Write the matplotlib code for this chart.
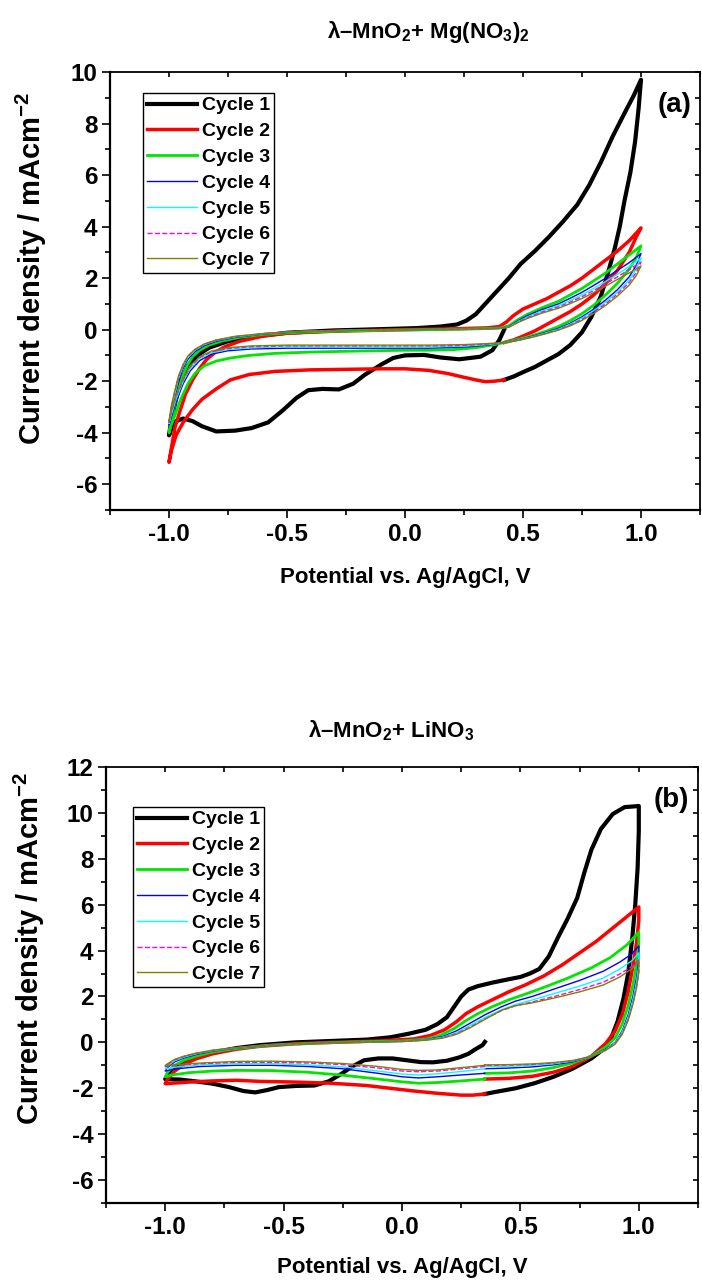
import matplotlib
matplotlib.use('Agg')
import matplotlib.pyplot as plt
from matplotlib.ticker import MultipleLocator

plt.rcParams['font.family'] = ['Liberation Sans', 'DejaVu Sans']
plt.rcParams['font.weight'] = 'bold'
plt.rcParams['axes.unicode_minus'] = False
plt.rcParams['mathtext.fontset'] = 'custom'
plt.rcParams['mathtext.rm'] = 'Liberation Sans:bold'
plt.rcParams['mathtext.it'] = 'Liberation Sans:bold'
plt.rcParams['mathtext.bf'] = 'Liberation Sans:bold'

# ---------------- panel (a): lambda-MnO2 + Mg(NO3)2 ----------------
a1_E = [0.42, 0.40, 0.37, 0.32, 0.23, 0.15, 0.08, 0.0, -0.05, -0.1, -0.17, -0.22, -0.28, -0.35, -0.41, -0.46,
        -0.52, -0.58, -0.65, -0.72, -0.8, -0.86, -0.9, -0.94, -0.97, -0.99, -1.0,
        -0.99, -0.97, -0.95, -0.92, -0.88, -0.83, -0.75, -0.65, -0.5, -0.3, -0.1, 0.05, 0.15, 0.22, 0.26, 0.3,
        0.35, 0.4, 0.44, 0.49, 0.55, 0.61, 0.67, 0.73, 0.78, 0.83, 0.88, 0.93, 0.97, 1.0,
        0.99, 0.975, 0.955, 0.93, 0.91, 0.89, 0.86, 0.83, 0.79, 0.75, 0.7, 0.65, 0.6, 0.55, 0.5, 0.46, 0.42]
a1_j = [0.0, -0.4, -0.8, -1.05, -1.15, -1.08, -0.98, -1.0, -1.1, -1.35, -1.75, -2.1, -2.32, -2.3, -2.35, -2.65,
        -3.15, -3.6, -3.82, -3.92, -3.95, -3.75, -3.55, -3.45, -3.55, -3.85, -4.1,
        -3.5, -2.7, -2.0, -1.4, -1.0, -0.7, -0.45, -0.28, -0.12, -0.03, 0.02, 0.06, 0.12, 0.2, 0.35, 0.6,
        1.1, 1.6, 2.0, 2.55, 3.05, 3.6, 4.2, 4.85, 5.6, 6.5, 7.5, 8.4, 9.1, 9.7,
        8.6, 7.3, 6.1, 5.0, 4.0, 3.2, 2.2, 1.3, 0.5, -0.1, -0.6, -0.95, -1.2, -1.45, -1.65, -1.82, -1.95]

a2_E = [0.42, 0.38, 0.34, 0.3, 0.25, 0.18, 0.1, 0.0, -0.1, -0.25, -0.4, -0.55, -0.66, -0.74, -0.8, -0.86,
        -0.9, -0.94, -0.97, -0.99, -1.0,
        -0.99, -0.975, -0.955, -0.93, -0.9, -0.87, -0.84, -0.8, -0.76, -0.7, -0.6, -0.5, -0.3, 0.0, 0.2, 0.35,
        0.4, 0.43, 0.46, 0.5, 0.55, 0.6, 0.65, 0.7, 0.75, 0.8, 0.85, 0.9, 0.95, 1.0,
        0.98, 0.95, 0.9, 0.85, 0.8, 0.75, 0.7, 0.65, 0.6, 0.55, 0.5, 0.46, 0.42]
a2_j = [-1.95, -2.0, -2.02, -1.95, -1.85, -1.7, -1.58, -1.52, -1.52, -1.54, -1.56, -1.62, -1.74, -1.95, -2.3, -2.7,
        -3.1, -3.6, -4.1, -4.7, -5.15,
        -4.6, -3.8, -3.2, -2.5, -1.95, -1.5, -1.15, -0.85, -0.65, -0.45, -0.25, -0.14, -0.06, 0.0, 0.03, 0.07,
        0.12, 0.3, 0.55, 0.8, 1.0, 1.2, 1.45, 1.7, 2.0, 2.35, 2.7, 3.05, 3.45, 3.95,
        3.6, 3.0, 2.3, 1.8, 1.35, 1.0, 0.7, 0.45, 0.2, -0.05, -0.25, -0.4, -0.5]

a3_E = [0.42, 0.38, 0.3, 0.2, 0.1, 0.0, -0.2, -0.4, -0.55, -0.66, -0.74, -0.8, -0.85, -0.89, -0.92, -0.95,
        -0.97, -0.99, -1.0,
        -0.99, -0.975, -0.96, -0.94, -0.92, -0.9, -0.87, -0.83, -0.78, -0.7, -0.6, -0.45, -0.2, 0.1, 0.3, 0.4,
        0.44, 0.48, 0.52, 0.58, 0.65, 0.7, 0.75, 0.8, 0.85, 0.9, 0.95, 1.0,
        0.98, 0.95, 0.9, 0.85, 0.8, 0.75, 0.7, 0.65, 0.6, 0.55, 0.5, 0.46, 0.42]
a3_j = [-0.5, -0.58, -0.7, -0.78, -0.8, -0.8, -0.83, -0.87, -0.92, -1.0, -1.1, -1.22, -1.4, -1.7, -2.1, -2.7,
        -3.2, -3.7, -4.0,
        -3.5, -2.9, -2.3, -1.75, -1.35, -1.05, -0.8, -0.6, -0.45, -0.3, -0.18, -0.1, -0.04, 0.0, 0.03, 0.06,
        0.15, 0.4, 0.6, 0.85, 1.1, 1.35, 1.6, 1.9, 2.2, 2.55, 2.9, 3.25,
        2.8, 2.35, 1.8, 1.35, 0.95, 0.62, 0.35, 0.12, -0.05, -0.2, -0.33, -0.42, -0.5]

a4_E = [0.42, 0.35, 0.25, 0.1, -0.1, -0.3, -0.5, -0.65, -0.75, -0.82, -0.87, -0.91, -0.94, -0.97, -0.99, -1.0,
        -0.99, -0.975, -0.96, -0.94, -0.92, -0.89, -0.85, -0.8, -0.72, -0.6, -0.45, -0.2, 0.1, 0.3, 0.4,
        0.44, 0.48, 0.52, 0.58, 0.65, 0.7, 0.75, 0.8, 0.85, 0.9, 0.95, 1.0,
        0.98, 0.95, 0.9, 0.85, 0.8, 0.75, 0.7, 0.65, 0.6, 0.55, 0.5, 0.46, 0.42]
a4_j = [-0.5, -0.6, -0.68, -0.72, -0.72, -0.72, -0.72, -0.75, -0.82, -0.95, -1.2, -1.6, -2.1, -2.8, -3.4, -3.7,
        -3.2, -2.6, -2.0, -1.5, -1.15, -0.85, -0.62, -0.45, -0.3, -0.17, -0.08, -0.02, 0.01, 0.03, 0.05,
        0.12, 0.35, 0.55, 0.78, 1.0, 1.22, 1.45, 1.72, 2.0, 2.3, 2.6, 2.95,
        2.5, 2.05, 1.55, 1.15, 0.8, 0.5, 0.25, 0.05, -0.1, -0.23, -0.35, -0.43, -0.5]

a5_E = a4_E
a5_j = [-0.5, -0.58, -0.64, -0.67, -0.67, -0.67, -0.67, -0.7, -0.77, -0.9, -1.12, -1.5, -2.0, -2.7, -3.3, -3.65,
        -3.1, -2.5, -1.9, -1.42, -1.08, -0.8, -0.58, -0.42, -0.28, -0.16, -0.07, -0.02, 0.01, 0.03, 0.05,
        0.11, 0.32, 0.5, 0.72, 0.93, 1.13, 1.35, 1.6, 1.87, 2.15, 2.45, 2.78,
        2.35, 1.93, 1.45, 1.07, 0.74, 0.45, 0.21, 0.02, -0.12, -0.25, -0.36, -0.44, -0.5]

a6_E = a4_E
a6_j = [-0.5, -0.56, -0.61, -0.63, -0.63, -0.63, -0.63, -0.66, -0.73, -0.86, -1.08, -1.45, -1.95, -2.6, -3.2, -3.6,
        -3.0, -2.4, -1.85, -1.38, -1.05, -0.78, -0.57, -0.41, -0.27, -0.15, -0.07, -0.02, 0.01, 0.03, 0.05,
        0.1, 0.3, 0.47, 0.68, 0.88, 1.07, 1.28, 1.52, 1.78, 2.05, 2.33, 2.62,
        2.22, 1.83, 1.38, 1.0, 0.68, 0.4, 0.18, 0.0, -0.14, -0.26, -0.37, -0.45, -0.5]

a7_E = a4_E
a7_j = [-0.5, -0.54, -0.58, -0.6, -0.6, -0.6, -0.6, -0.63, -0.7, -0.83, -1.05, -1.4, -1.9, -2.55, -3.15, -3.55,
        -2.95, -2.35, -1.8, -1.35, -1.02, -0.76, -0.55, -0.4, -0.26, -0.15, -0.07, -0.02, 0.01, 0.03, 0.05,
        0.09, 0.28, 0.44, 0.64, 0.83, 1.01, 1.21, 1.44, 1.69, 1.95, 2.2, 2.47,
        2.1, 1.73, 1.3, 0.94, 0.63, 0.36, 0.15, -0.02, -0.15, -0.27, -0.38, -0.45, -0.5]

# ---------------- panel (b): lambda-MnO2 + LiNO3 ----------------
b1_E = [0.35, 0.34, 0.31, 0.28, 0.24, 0.19, 0.13, 0.08, 0.02, -0.04, -0.1, -0.16, -0.21, -0.26, -0.31, -0.37,
        -0.45, -0.52, -0.57, -0.62, -0.67, -0.73, -0.8, -0.87, -0.94, -1.0,
        -0.99, -0.96, -0.92, -0.87, -0.8, -0.7, -0.6, -0.45, -0.3, -0.15, -0.05, 0.03, 0.1, 0.15, 0.19, 0.22,
        0.25, 0.28, 0.32, 0.38, 0.45, 0.5, 0.54, 0.58, 0.62, 0.66, 0.7, 0.74, 0.77, 0.8, 0.84, 0.89, 0.94, 1.0,
        1.0, 0.995, 0.985, 0.972, 0.955, 0.935, 0.91, 0.88, 0.85, 0.8, 0.72, 0.64, 0.56, 0.48, 0.4, 0.35]
b1_j = [0.02, -0.12, -0.3, -0.5, -0.66, -0.8, -0.87, -0.86, -0.78, -0.7, -0.7, -0.78, -1.05, -1.4, -1.7, -1.88,
        -1.9, -1.95, -2.08, -2.18, -2.12, -1.95, -1.8, -1.7, -1.62, -1.6,
        -1.45, -1.1, -0.85, -0.65, -0.45, -0.25, -0.12, 0.0, 0.06, 0.12, 0.22, 0.38, 0.55, 0.8, 1.1, 1.55,
        2.0, 2.3, 2.45, 2.6, 2.75, 2.85, 3.0, 3.2, 3.75, 4.6, 5.4, 6.3, 7.4, 8.4, 9.3, 9.95, 10.25, 10.3,
        9.2, 7.6, 6.0, 4.5, 3.0, 1.9, 0.9, 0.1, -0.3, -0.7, -1.15, -1.5, -1.78, -2.0, -2.15, -2.25]

b2_E = [0.35, 0.3, 0.25, 0.15, 0.05, -0.05, -0.15, -0.3, -0.45, -0.6, -0.7, -0.8, -0.9, -0.97, -1.0,
        -0.99, -0.96, -0.92, -0.87, -0.8, -0.7, -0.6, -0.45, -0.3, -0.1, 0.05, 0.12, 0.18, 0.23, 0.27, 0.32,
        0.38, 0.45, 0.52, 0.6, 0.68, 0.75, 0.82, 0.88, 0.94, 1.0,
        1.0, 0.99, 0.975, 0.955, 0.93, 0.9, 0.86, 0.8, 0.72, 0.64, 0.55, 0.45, 0.35]
b2_j = [-2.25, -2.3, -2.3, -2.22, -2.12, -2.0, -1.88, -1.78, -1.73, -1.7, -1.65, -1.68, -1.73, -1.78, -1.8,
        -1.6, -1.25, -0.95, -0.72, -0.5, -0.3, -0.17, -0.06, 0.0, 0.06, 0.15, 0.3, 0.55, 0.9, 1.25, 1.55,
        1.85, 2.2, 2.5, 2.9, 3.4, 3.9, 4.4, 4.9, 5.4, 5.9,
        5.3, 4.3, 3.3, 2.2, 1.2, 0.5, -0.05, -0.6, -1.05, -1.3, -1.48, -1.57, -1.6]

b3_E = [0.35, 0.25, 0.15, 0.07, 0.0, -0.1, -0.25, -0.4, -0.55, -0.7, -0.8, -0.9, -0.97, -1.0,
        -0.99, -0.96, -0.92, -0.87, -0.8, -0.7, -0.55, -0.4, -0.2, 0.0, 0.1, 0.16, 0.22, 0.27, 0.32, 0.38,
        0.45, 0.52, 0.6, 0.7, 0.8, 0.88, 0.95, 1.0,
        1.0, 0.99, 0.975, 0.955, 0.93, 0.9, 0.86, 0.8, 0.72, 0.64, 0.55, 0.45, 0.35]
b3_j = [-1.6, -1.68, -1.75, -1.78, -1.72, -1.6, -1.43, -1.3, -1.23, -1.22, -1.25, -1.32, -1.42, -1.5,
        -1.3, -1.0, -0.78, -0.6, -0.42, -0.27, -0.12, -0.05, 0.02, 0.06, 0.14, 0.3, 0.6, 0.95, 1.25, 1.55,
        1.85, 2.1, 2.4, 2.8, 3.25, 3.7, 4.25, 4.8,
        4.2, 3.4, 2.5, 1.6, 0.8, 0.2, -0.2, -0.6, -0.9, -1.1, -1.25, -1.33, -1.35]

b4_E = [0.35, 0.25, 0.15, 0.07, 0.0, -0.1, -0.25, -0.4, -0.55, -0.7, -0.85, -0.95, -1.0,
        -0.99, -0.96, -0.92, -0.87, -0.8, -0.7, -0.55, -0.35, -0.15, 0.0, 0.1, 0.17, 0.23, 0.29, 0.35, 0.42,
        0.48, 0.55, 0.65, 0.75, 0.85, 0.92, 0.97, 1.0,
        1.0, 0.99, 0.975, 0.955, 0.93, 0.9, 0.86, 0.8, 0.72, 0.64, 0.55, 0.45, 0.35]
b4_j = [-1.35, -1.42, -1.5, -1.55, -1.5, -1.35, -1.15, -1.05, -1.0, -1.0, -1.05, -1.15, -1.25,
        -1.1, -0.85, -0.68, -0.53, -0.38, -0.25, -0.12, -0.03, 0.02, 0.05, 0.12, 0.25, 0.5, 0.85, 1.2, 1.55,
        1.8, 2.0, 2.35, 2.7, 3.1, 3.5, 3.85, 4.2,
        3.6, 2.8, 2.0, 1.2, 0.5, 0.0, -0.3, -0.62, -0.85, -0.98, -1.07, -1.12, -1.15]

b5_E = b4_E
b5_j = [-1.15, -1.27, -1.37, -1.42, -1.38, -1.25, -1.07, -0.98, -0.93, -0.93, -0.98, -1.07, -1.15,
        -1.02, -0.8, -0.64, -0.5, -0.36, -0.24, -0.11, -0.03, 0.02, 0.05, 0.11, 0.22, 0.42, 0.75, 1.08, 1.42,
        1.65, 1.85, 2.15, 2.45, 2.8, 3.2, 3.55, 3.9,
        3.35, 2.6, 1.85, 1.1, 0.45, -0.02, -0.32, -0.62, -0.82, -0.93, -1.0, -1.04, -1.05]

b6_E = b4_E
b6_j = [-1.05, -1.15, -1.25, -1.28, -1.25, -1.12, -0.97, -0.9, -0.87, -0.87, -0.93, -1.0, -1.05,
        -0.96, -0.76, -0.61, -0.48, -0.35, -0.23, -0.11, -0.03, 0.02, 0.04, 0.1, 0.2, 0.38, 0.68, 1.02, 1.38,
        1.6, 1.76, 2.02, 2.3, 2.62, 2.98, 3.3, 3.6,
        3.1, 2.4, 1.7, 1.0, 0.4, -0.05, -0.33, -0.62, -0.8, -0.9, -0.96, -0.99, -1.0]

b7_E = b4_E
b7_j = [-1.0, -1.1, -1.2, -1.22, -1.18, -1.05, -0.92, -0.85, -0.82, -0.83, -0.9, -0.97, -1.0,
        -0.93, -0.74, -0.6, -0.47, -0.34, -0.22, -0.1, -0.03, 0.02, 0.04, 0.09, 0.18, 0.35, 0.65, 1.0, 1.4,
        1.6, 1.72, 1.95, 2.2, 2.5, 2.85, 3.2, 3.55,
        3.05, 2.35, 1.65, 0.95, 0.35, -0.08, -0.35, -0.62, -0.79, -0.88, -0.94, -0.97, -0.98]

labels = ['Cycle 1', 'Cycle 2', 'Cycle 3', 'Cycle 4', 'Cycle 5', 'Cycle 6', 'Cycle 7']
colors = ['black', '#FF0000', '#00E600', '#0000FF', '#00FFFF', '#FF00FF', '#808000']
widths = [3.0, 2.5, 2.0, 1.0, 1.0, 1.0, 1.0]
styles = ['-', '-', '-', '-', '-', '--', '-']

a_E = [a1_E, a2_E, a3_E, a4_E, a5_E, a6_E, a7_E]
a_j = [a1_j, a2_j, a3_j, a4_j, a5_j, a6_j, a7_j]
b_E = [b1_E, b2_E, b3_E, b4_E, b5_E, b6_E, b7_E]
b_j = [b1_j, b2_j, b3_j, b4_j, b5_j, b6_j, b7_j]


def draw_panel(ax, E_list, j_list, ylim, tag):
    for E, j, lab, c, w, ls in zip(E_list, j_list, labels, colors, widths, styles):
        ax.plot(E, j, color=c, lw=w, ls=ls, label=lab, solid_joinstyle='round')
    ax.set_xlim(-1.25, 1.25)
    ax.set_ylim(*ylim)
    ax.xaxis.set_major_locator(MultipleLocator(0.5))
    ax.xaxis.set_minor_locator(MultipleLocator(0.25))
    ax.yaxis.set_major_locator(MultipleLocator(2))
    ax.yaxis.set_minor_locator(MultipleLocator(1))
    ax.xaxis.set_major_formatter(plt.FuncFormatter(lambda v, p: '%.1f' % v))
    ax.tick_params(which='both', labelsize=17.5, pad=3)
    ax.tick_params(which='major', direction='out', length=6, width=1.2)
    ax.tick_params(which='minor', direction='out', length=3.5, width=1.2)
    for s in ax.spines.values():
        s.set_linewidth(1.3)
    ax.spines['left'].set_linewidth(1.6)
    ax.spines['bottom'].set_linewidth(1.6)
    ax.set_xlabel('Potential vs. Ag/AgCl, V', fontsize=16, fontweight='bold')
    ax.set_ylabel(r'Current density / mAcm$^{-2}$', fontsize=21, fontweight='bold')
    ax.yaxis.label.set_va('center')
    ax.xaxis.label.set_va('center')
    ax.text(0.985, 0.955, tag, transform=ax.transAxes, ha='right', va='top',
            fontsize=20, fontweight='bold')
    leg = ax.legend(loc='upper left', prop={'size': 14, 'weight': 'bold'},
                    frameon=True, fancybox=False,
                    edgecolor='black', framealpha=1, handlelength=2.6, handletextpad=0.25,
                    labelspacing=0.42, borderpad=0.2, borderaxespad=0)
    leg.get_frame().set_linewidth(1.0)
    return leg


fig = plt.figure(figsize=(7.02, 12.82), dpi=100)
ax_a = fig.add_axes([110 / 702, 1 - 510 / 1282, 590 / 702, 438 / 1282])
ax_b = fig.add_axes([106 / 702, 1 - 1203 / 1282, 592 / 702, 436 / 1282])

leg_a = draw_panel(ax_a, a_E, a_j, (-7, 10), '(a)')
leg_a.set_bbox_to_anchor((33 / 590, 1 - 21 / 438), transform=ax_a.transAxes)
ax_a.yaxis.set_label_coords((31 - 110) / 590, (510 - 268) / 438)
ax_a.xaxis.set_label_coords(0.5, -(577 - 510) / 438)

leg_b = draw_panel(ax_b, b_E, b_j, (-7, 12), '(b)')
leg_b.set_bbox_to_anchor((27 / 592, 1 - 40 / 436), transform=ax_b.transAxes)
ax_b.yaxis.set_label_coords((29 - 106) / 592, (1203 - 948) / 436)
ax_b.xaxis.set_label_coords(0.5, -(1267 - 1203) / 436)

# top/right ticks point inward, bottom/left outward
for ax in (ax_a, ax_b):
    ax.xaxis.set_tick_params(which='both', top=True, labeltop=False)
    ax.yaxis.set_tick_params(which='both', right=True, labelright=False)
    for tk in ax.xaxis.get_major_ticks() + ax.xaxis.get_minor_ticks():
        tk.tick2line.set_marker(3)
        tk.tick2line.set_markersize(3.5)
    for tk in ax.yaxis.get_major_ticks() + ax.yaxis.get_minor_ticks():
        tk.tick2line.set_marker(0)
        tk.tick2line.set_markersize(3.5)

fig.text(428 / 702, 1 - 32 / 1282, r'λ–MnO$_2$+ Mg(NO$_3$)$_2$', ha='center', va='center',
         fontsize=16, fontweight='bold')
fig.text(391 / 702, 1 - 731 / 1282, r'λ–MnO$_2$+ LiNO$_3$', ha='center', va='center',
         fontsize=16, fontweight='bold')

fig.savefig('out.png', dpi=100)
